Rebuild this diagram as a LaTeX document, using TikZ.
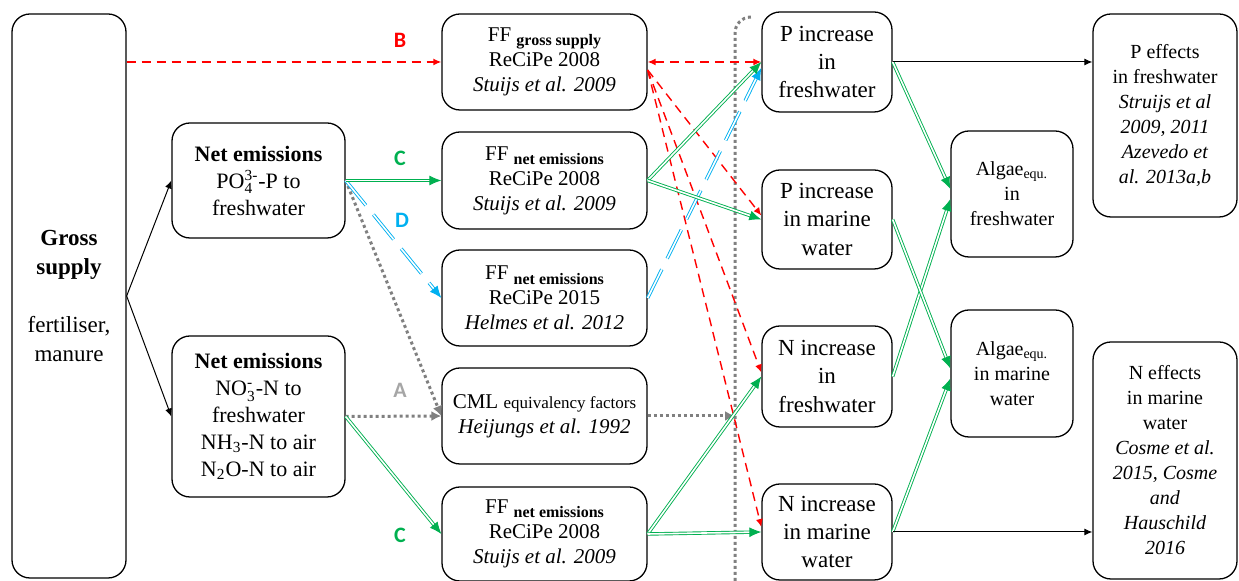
\documentclass[tikz,border=0pt]{standalone}
\usepackage{amsmath}
\usepackage{fontspec}
\setmainfont{Liberation Serif}
\newfontfamily\serfont{Liberation Serif}
\newfontfamily\labfont{Carlito}
\usetikzlibrary{arrows.meta}

\definecolor{cgreen}{RGB}{0,176,80}
\definecolor{cred}{RGB}{255,0,0}
\definecolor{cblue}{RGB}{0,176,240}
\definecolor{cgray}{RGB}{128,128,128}
\definecolor{clgray}{RGB}{166,166,166}

\newcommand{\ffsub}[1]{\raisebox{-0.45ex}{\fontsize{8}{9}\selectfont\bfseries #1}}

\tikzset{
  box/.style={draw, line width=0.65pt, rounded corners=9pt, align=center, inner sep=0pt},
  dims/.style 2 args={minimum width=#1, minimum height=#2},
  big/.style={font=\serfont\fontsize{11.5}{14.2}\selectfont},
  mid/.style={font=\serfont\fontsize{11}{13.5}\selectfont},
  ffs/.style={font=\serfont\fontsize{10.5}{12.5}\selectfont},
  sml/.style={font=\serfont\fontsize{10}{12.5}\selectfont},
  lab/.style={font=\labfont\bfseries\fontsize{11}{13}\selectfont},
  blackline/.style={line width=0.5pt, -{Latex[length=4pt,width=3.5pt]}},
  redline/.style={cred, line width=0.7pt, dash pattern=on 4.5pt off 3pt, -{Latex[length=4pt,width=3.5pt]}},
  greenline/.style={draw=cgreen, line width=0.45pt, double=white, double distance=0.8pt, -{Latex[length=6pt,width=5pt]}},
  blueline/.style={draw=cblue, line width=0.45pt, double=white, double distance=0.8pt, dash pattern=on 16pt off 6pt, -{Latex[length=6pt,width=5pt]}},
  grayline/.style={cgray, line width=1.5pt, dash pattern=on 1.5pt off 1.5pt, -{Latex[length=5pt,width=5pt]}},
}

\begin{document}
\begin{tikzpicture}[x=0.5pt, y=-0.5pt]
  \useasboundingbox (0,0) rectangle (1239,581);
  % boxes, column by column
  \node[box, big, dims={57pt}{282pt}] (gross) at (69,296)
    {\textbf{Gross}\\ \textbf{supply}\\[15pt] fertiliser,\\ manure};
  \node[box, mid, dims={86.5pt}{57.5pt}] (netP) at (258.5,180.5)
    {\textbf{Net emissions}\\ PO$^{\text{3-}}_{\text{4}}$-P to\\ freshwater};
  \node[box, mid, dims={86.5pt}{80.5pt}] (netN) at (258.5,416.5)
    {\textbf{Net emissions}\\ NO$^{\text{-}}_{\text{3}}$-N to\\ freshwater\\ NH\textsubscript{3}-N to air\\ N\textsubscript{2}O-N to air};

  \node[box, ffs, dims={102.5pt}{48pt}] (ffgross) at (544.5,62)
    {FF \ffsub{gross supply}\\ ReCiPe 2008\\ \textit{Stuijs et al. 2009}};
  \node[box, ffs, dims={102.5pt}{48.5pt}] (ffnetA) at (544.5,180.5)
    {FF \ffsub{net emissions}\\ ReCiPe 2008\\ \textit{Stuijs et al. 2009}};
  \node[box, ffs, dims={102.5pt}{48pt}] (ffnetB) at (544.5,298)
    {FF \ffsub{net emissions}\\ ReCiPe 2015\\ \textit{Helmes et al. 2012}};
  \node[box, ffs, dims={102.5pt}{48pt}] (cml) at (544.5,416)
    {CML {\fontsize{8.5}{10}\selectfont equivalency factors}\\ \textit{Heijungs et al. 1992}};
  \node[box, ffs, dims={102.5pt}{47pt}] (ffnetC) at (544.5,534)
    {FF \ffsub{net emissions}\\ ReCiPe 2008\\ \textit{Stuijs et al. 2009}};

  \node[box, big, dims={65pt}{50pt}] (pfresh) at (827,62) {P increase\\ in\\ freshwater};
  \node[box, big, dims={65pt}{49.5pt}] (pmarine) at (827,219.5) {P increase\\ in marine\\ water};
  \node[box, big, dims={65pt}{50.5pt}] (nfresh) at (827,376.5) {N increase\\ in\\ freshwater};
  \node[box, big, dims={65pt}{48pt}] (nmarine) at (827,532) {N increase\\ in marine\\ water};

  \node[box, sml, dims={61pt}{63pt}] (algfresh) at (1012,194)
    {Algae\textsubscript{equ.}\\ in\\ freshwater};
  \node[box, sml, dims={61pt}{63.5pt}] (algmarine) at (1012,373.5)
    {Algae\textsubscript{equ.}\\ in marine\\ water};

  \node[box, sml, dims={72pt}{101.5pt}] (peff) at (1165,115.5)
    {P effects\\ in freshwater\\ \textit{Struijs et al}\\ \textit{2009, 2011}\\ \textit{Azevedo et}\\ \textit{al. 2013a,b}};
  \node[box, sml, dims={72pt}{118.5pt}] (neff) at (1165,460.5)
    {N effects\\ in marine\\ water\\ \textit{Cosme et al.}\\ \textit{2015, Cosme}\\ \textit{and}\\ \textit{Hauschild}\\ \textit{2016}};

  % route labels
  \node[lab, cred] (labB) at (400,40) {B};
  \node[lab, cgreen] (labC1) at (400,158) {C};
  \node[lab, cblue] (labD) at (402,220) {D};
  \node[lab, clgray] (labA) at (400,390) {A};
  \node[lab, cgreen] (labC2) at (400,535) {C};

  % vertical separator
  \coordinate (vbot) at (735,581);
  \coordinate (vtop) at (752,17);
  \draw[cgray, line width=1.5pt, dash pattern=on 1.5pt off 1.5pt, rounded corners=8pt]
    (vbot) -- (vbot |- vtop) -- (vtop);

  % connectors
  \draw[blackline] (gross.east) -- (netP.west);
  \draw[blackline] (gross.east) -- (netN.west);
  \draw[redline] (gross.east |- ffgross.west) -- (ffgross.west);

  \draw[grayline] (netP.east) -- (cml.west);
  \draw[grayline] (netN.east) -- (cml.west);
  \draw[grayline] (cml.east) -- (cml.east -| vbot);
  \draw[blueline] (netP.east) -- (ffnetB.west);
  \draw[greenline] (netP.east) -- (ffnetA.west);
  \draw[greenline] (netN.east) -- (ffnetC.west);

  \draw[redline, {Latex[length=4pt,width=3.5pt]}-{Latex[length=4pt,width=3.5pt]}] (ffgross.east) -- (pfresh.west);
  \draw[redline] ([yshift=-4pt]ffgross.east) -- ([yshift=2pt]pmarine.west);
  \draw[redline] ([yshift=-4pt]ffgross.east) -- ([yshift=2pt]nfresh.west);
  \draw[redline] ([yshift=-4pt]ffgross.east) -- ([yshift=2.5pt]nmarine.west);

  \draw[blueline] (ffnetB.east) -- ([yshift=-3pt]pfresh.west);
  \draw[greenline] (ffnetA.east) -- (pfresh.west);
  \draw[greenline] (ffnetA.east) -- (pmarine.west);
  \draw[greenline] (ffnetC.east) -- (nfresh.west);
  \draw[greenline] (ffnetC.east) -- (nmarine.west);

  \draw[greenline] (pfresh.east) -- ([yshift=2.5pt]algfresh.west);
  \draw[greenline] (nfresh.east) -- ([yshift=-2.5pt]algfresh.west);
  \draw[greenline] (pmarine.east) -- ([yshift=2.5pt]algmarine.west);
  \draw[greenline] (nmarine.east) -- ([yshift=-2.5pt]algmarine.west);

  \draw[blackline] (pfresh.east) -- (pfresh.east -| peff.west);
  \draw[blackline] (nmarine.east) -- (nmarine.east -| neff.west);
\end{tikzpicture}
\end{document}
